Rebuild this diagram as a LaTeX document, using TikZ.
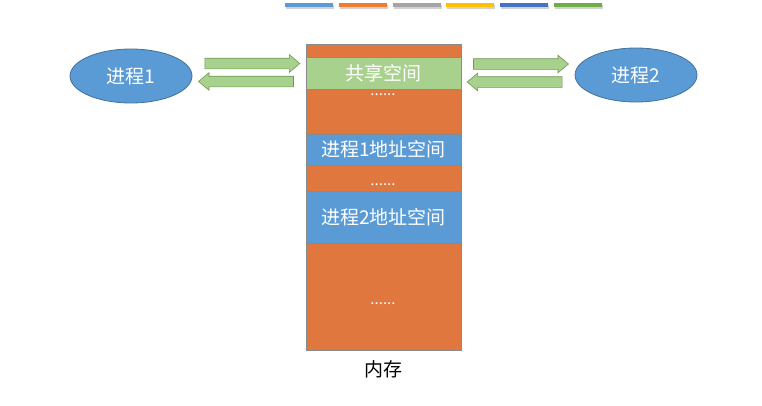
\documentclass[tikz,border=0pt]{standalone}
\usepackage{fontspec}
\setmainfont{Noto Sans CJK SC}
\usetikzlibrary{shapes.geometric, shapes.arrows, positioning, calc}

\definecolor{procblue}{HTML}{5B9BD5}
\definecolor{procedge}{HTML}{41719C}
\definecolor{memorange}{HTML}{DF773F}
\definecolor{sharegreen}{HTML}{A9D18E}
\definecolor{pipeedge}{HTML}{6E9A53}
\definecolor{segedge}{HTML}{8A8A8A}
\definecolor{bar1}{HTML}{5B9BD5}
\definecolor{bar2}{HTML}{ED7D31}
\definecolor{bar3}{HTML}{A5A5A5}
\definecolor{bar4}{HTML}{FFC000}
\definecolor{bar5}{HTML}{4472C4}
\definecolor{bar6}{HTML}{70AD47}

\begin{document}
\begin{tikzpicture}[x=1pt, y=-1pt,
    proc/.style={ellipse, draw=procedge, fill=procblue, line width=0.8pt,
        minimum width=122pt, minimum height=54pt, text=white,
        font=\fontsize{19}{22}\selectfont},
    seg/.style={rectangle, draw=segedge, line width=0.5pt, minimum width=155pt,
        inner sep=0pt, outer sep=0pt, text=white, font=\fontsize{19}{22}\selectfont},
    dots/.style={text=white, inner sep=0pt, font=\fontsize{15}{15}\selectfont},
    pipe/.style={single arrow, draw=pipeedge, fill=sharegreen, line width=0.6pt,
        minimum height=95pt, inner xsep=0pt, inner ysep=5pt,
        single arrow head extend=3.5pt, single arrow tip angle=80}]
    \useasboundingbox (0,0) rectangle (762,405);

    % Theme colour bars
    \foreach \c [count=\i] in {bar1,bar2,bar3,bar4,bar5,bar6} {
        \fill[black!18] (285+53.8*\i-53.8+1, 5) rectangle +(48,3.5);
        \fill[\c] (285+53.8*\i-53.8, 3) rectangle +(48,4);
    }

    % Memory column
    \node[seg, fill=memorange, minimum height=13pt] (m0) at (383.5,50.5) {};
    \node[seg, fill=sharegreen, minimum height=32pt, below=0pt of m0] (shm) {共享空间};
    \node[seg, fill=memorange, minimum height=45pt, below=0pt of shm] (m1) {};
    \node[seg, fill=procblue, minimum height=31pt, below=0pt of m1] (a1) {进程1地址空间};
    \node[seg, fill=memorange, minimum height=26pt, below=0pt of a1] (m2) {};
    \node[seg, fill=procblue, minimum height=52pt, below=0pt of m2] (a2) {进程2地址空间};
    \node[seg, fill=memorange, minimum height=107pt, below=0pt of a2] (m3) {};
    \node[below=7pt of m3, font=\fontsize{19}{22}\selectfont] (memlabel) {内存};

    % Dots
    \node[dots, anchor=base] (d1) at (383,95) {......};
    \node[dots, anchor=base] (d2) at (383,185) {......};
    \node[dots, anchor=base] (d3) at (383,304) {......};

    % Processes
    \node[proc] (p1) at (131,76) {进程1};
    \node[proc] (p2) at (636,75) {进程2};

    % Pipes to and from the shared space
    \node[pipe] (w1) at ($(p1.east)!0.5!(shm.west)+(0,-11)$) {};
    \node[pipe, shape border rotate=180] (r1) at ($(p1.east)!0.5!(shm.west)+(0,7)$) {};
    \node[pipe] (w2) at ($(shm.east)!0.5!(p2.west)+(0,-10)$) {};
    \node[pipe, shape border rotate=180] (r2) at ($(shm.east)!0.5!(p2.west)+(0,8)$) {};
\end{tikzpicture}
\end{document}
